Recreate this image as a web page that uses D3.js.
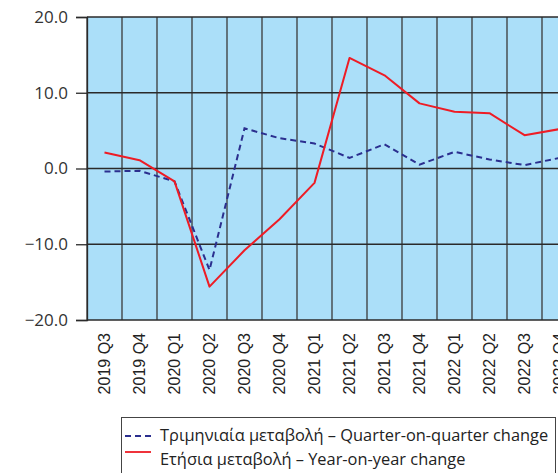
<!DOCTYPE html>
<html>
<head>
<meta charset="utf-8">
<script src="https://cdn.jsdelivr.net/npm/d3@7"></script>
<style>
  html, body { margin: 0; padding: 0; background: #fff; overflow: hidden; }
</style>
</head>
<body>
<svg id="svg1" width="558" height="473"></svg>
<script>
// quarters shown on the x axis
var quarters = ["2019 Q3", "2019 Q4", "2020 Q1", "2020 Q2", "2020 Q3", "2020 Q4",
  "2021 Q1", "2021 Q2", "2021 Q3", "2021 Q4", "2022 Q1", "2022 Q2", "2022 Q3", "2022 Q4"];
// quarter-on-quarter change (%)
var qoq = [-0.4, -0.3, -1.7, -13.4, 5.3, 4.0, 3.3, 1.4, 3.2, 0.5, 2.2, 1.2, 0.45, 1.4];
// year-on-year change (%)
var yoy = [2.1, 1.1, -1.7, -15.6, -10.8, -6.7, -1.9, 14.6, 12.3, 8.6, 7.5, 7.3, 4.4, 5.2];
var yTicks = [-20, -10, 0, 10, 20];
var legendLabels = ["Τριμηνιαία μεταβολή – Quarter-on-quarter change",
  "Ετήσια μεταβολή – Year-on-year change"];

var svg = d3.select("#svg1"),
  margin = {top: 17, left: 87},
  width = 35 * quarters.length,
  height = 303,
  g = svg.append("g").attr("transform", "translate(" + margin.left + "," + margin.top + ")");

var x = d3.scaleBand()
  .domain(quarters)
  .range([0, width]);
var y = d3.scaleLinear()
  .domain([-20, 20])
  .range([height, 0]);

// plot background
g.append("rect")
  .attr("width", width)
  .attr("height", height)
  .attr("fill", "#abdff9");

// vertical grid
g.append("g")
  .selectAll("line")
  .data(quarters)
  .enter().append("line")
    .attr("x1", function(d) { return x(d); })
    .attr("x2", function(d) { return x(d); })
    .attr("y1", 0)
    .attr("y2", height)
    .attr("stroke", "#3a3a3a")
    .attr("stroke-width", 1.3);

// horizontal grid
g.append("g")
  .selectAll("line")
  .data(yTicks)
  .enter().append("line")
    .attr("x1", 0)
    .attr("x2", width)
    .attr("y1", function(d) { return y(d); })
    .attr("y2", function(d) { return y(d); })
    .attr("stroke", "#2a2a2a")
    .attr("stroke-width", 1.3);

// y axis
var yAxis = g.append("g")
  .call(d3.axisLeft(y).tickValues(yTicks).tickSize(11).tickPadding(8)
    .tickFormat(d3.format(".1f")));
yAxis.select(".domain").attr("stroke", "#2a2a2a").attr("stroke-width", 1.3);
yAxis.selectAll(".tick line").attr("stroke", "#2a2a2a").attr("stroke-width", 1.3);
yAxis.selectAll("text")
  .attr("fill", "#333")
  .style("font-family", "'Open Sans', sans-serif")
  .style("font-size", "17px");

// x labels
g.append("g")
  .selectAll("text")
  .data(quarters)
  .enter().append("text")
    .attr("transform", function(d) {
      return "translate(" + (x(d) + x.bandwidth() / 2) + "," + (height + 13) + ") rotate(-90)";
    })
    .attr("dy", "0.35em")
    .attr("text-anchor", "end")
    .attr("fill", "#222")
    .style("font-family", "'Liberation Sans', Arial, sans-serif")
    .style("font-size", "16px")
    .text(function(d) { return d; });

var line = d3.line()
  .x(function(d, i) { return x(quarters[i]) + x.bandwidth() / 2; })
  .y(function(d) { return y(d); });

g.append("path")
  .datum(qoq)
  .attr("fill", "none")
  .attr("stroke", "#2b2f8f")
  .attr("stroke-width", 2)
  .attr("stroke-dasharray", "6,4")
  .attr("d", line);

g.append("path")
  .datum(yoy)
  .attr("fill", "none")
  .attr("stroke", "#ee1c25")
  .attr("stroke-width", 2)
  .attr("stroke-linejoin", "round")
  .attr("d", line);

// legend
var legend = svg.append("g");
legend.append("rect")
  .attr("x", 121.5)
  .attr("y", 417.5)
  .attr("width", 434)
  .attr("height", 70)
  .attr("fill", "#fff")
  .attr("stroke", "#444")
  .attr("stroke-width", 1);
legend.append("line")
  .attr("x1", 125).attr("x2", 151)
  .attr("y1", 436).attr("y2", 436)
  .attr("stroke", "#2b2f8f")
  .attr("stroke-width", 1.8)
  .attr("stroke-dasharray", "6,4");
legend.append("line")
  .attr("x1", 125).attr("x2", 151)
  .attr("y1", 452).attr("y2", 452)
  .attr("stroke", "#ee1c25")
  .attr("stroke-width", 1.8);
legend.selectAll("text.lg")
  .data(legendLabels)
  .enter().append("text")
    .attr("class", "lg")
    .attr("x", 160)
    .attr("y", function(d, i) { return 441 + i * 24; })
    .attr("fill", "#222")
    .style("font-family", "'Open Sans', sans-serif")
    .style("font-size", "16.4px")
    .text(function(d) { return d; });
</script>
</body>
</html>
